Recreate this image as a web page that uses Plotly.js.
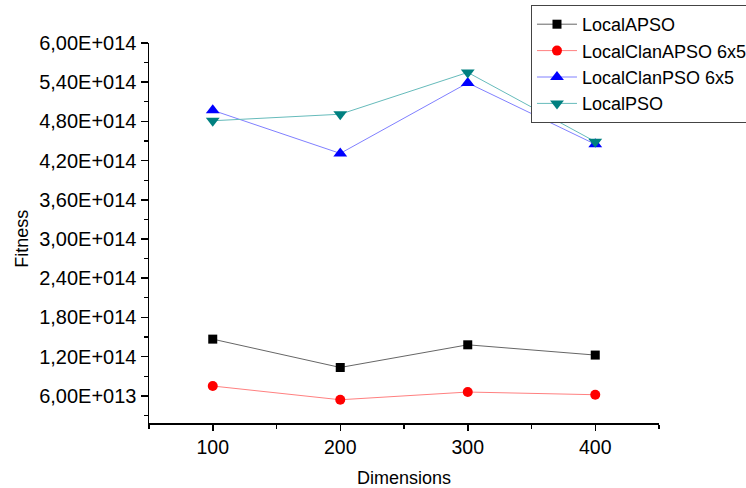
<!DOCTYPE html>
<html>
<head>
<meta charset="utf-8">
<script src="https://cdn.plot.ly/plotly-3.0.1.min.js"></script>
<style>html,body{margin:0;padding:0;background:#fff;}#chart{width:746px;height:488px;}</style>
</head>
<body>
<div id="chart"></div>
<script>
const dimensions = [100, 200, 300, 400];
const localAPSO = [1.467e14, 1.033e14, 1.38e14, 1.223e14];
const localClanAPSO = [7.49e13, 5.39e13, 6.57e13, 6.16e13];
const localClanPSO = [4.97e14, 4.31e14, 5.39e14, 4.45e14];
const localPSO = [4.81e14, 4.91e14, 5.55e14, 4.49e14];
const seriesNames = ["LocalAPSO", "LocalClanAPSO 6x5", "LocalClanPSO 6x5", "LocalPSO"];
const yTickVals = [6e13, 1.2e14, 1.8e14, 2.4e14, 3.0e14, 3.6e14, 4.2e14, 4.8e14, 5.4e14, 6.0e14];
const yTickText = ["6,00E+013", "1,20E+014", "1,80E+014", "2,40E+014", "3,00E+014", "3,60E+014", "4,20E+014", "4,80E+014", "5,40E+014", "6,00E+014"];
const xTickVals = [100, 200, 300, 400];

const FONT = "Arial, 'Liberation Sans', sans-serif";

function tr(y, name, sym, mcol, lcol, msize) {
  return {
    x: dimensions, y: y, name: name, type: "scatter", mode: "lines+markers",
    line: {color: lcol, width: 1},
    marker: {symbol: sym, color: mcol, size: msize, line: {width: 0}},
    cliponaxis: false
  };
}

const data = [
  tr(localAPSO, seriesNames[0], "square", "#000000", "#666666", 9),
  tr(localClanAPSO, seriesNames[1], "circle", "#ff0000", "#ff8080", 10),
  tr(localClanPSO, seriesNames[2], "triangle-up", "#0000ff", "#8080ff", 12),
  tr(localPSO, seriesNames[3], "triangle-down", "#008080", "#66bbbb", 12)
];

const layout = {
  width: 746, height: 488,
  paper_bgcolor: "#ffffff", plot_bgcolor: "#ffffff",
  margin: {l: 149, r: 87, t: 43, b: 65, autoexpand: false},
  font: {family: FONT, color: "#000", size: 18},
  showlegend: true,
  legend: {
    x: 0.749, y: 1.10, xanchor: "left", yanchor: "top",
    bgcolor: "#ffffff", bordercolor: "#444", borderwidth: 1,
    itemwidth: 40,
    font: {family: FONT, size: 18, color: "#000"},
    tracegroupgap: 0
  },
  xaxis: {
    range: [50, 450], tickvals: xTickVals, ticktext: xTickVals.map(String),
    ticks: "outside", ticklen: 6, tickwidth: 1.5, tickcolor: "#000",
    showline: true, linecolor: "#000", linewidth: 1.5,
    showgrid: false, zeroline: false,
    tickfont: {family: FONT, size: 19.5, color: "#000"},
    minor: {dtick: 50, tick0: 0, ticks: "outside", ticklen: 4, tickwidth: 1.2, tickcolor: "#000", showgrid: false},
    title: {text: "Dimensions", font: {family: FONT, size: 18, color: "#000"}, standoff: 20}
  },
  yaxis: {
    range: [1.83e13, 6.0005e14], tickvals: yTickVals, ticktext: yTickText,
    ticks: "outside", ticklen: 7, tickwidth: 1.5, tickcolor: "#000",
    showline: true, linecolor: "#000", linewidth: 1.5,
    showgrid: false, zeroline: false,
    tickfont: {family: FONT, size: 20, color: "#000"},
    minor: {dtick: 3e13, tick0: 0, ticks: "outside", ticklen: 4, tickwidth: 1.2, tickcolor: "#000", showgrid: false}
  },
  annotations: [{
    text: "Fitness", xref: "paper", yref: "paper", x: -0.249, y: 0.485,
    xanchor: "center", yanchor: "middle", textangle: -90, showarrow: false,
    font: {family: FONT, size: 18, color: "#000"}
  }]
};

Plotly.newPlot("chart", data, layout, {staticPlot: true, displayModeBar: false});
</script>
</body>
</html>
